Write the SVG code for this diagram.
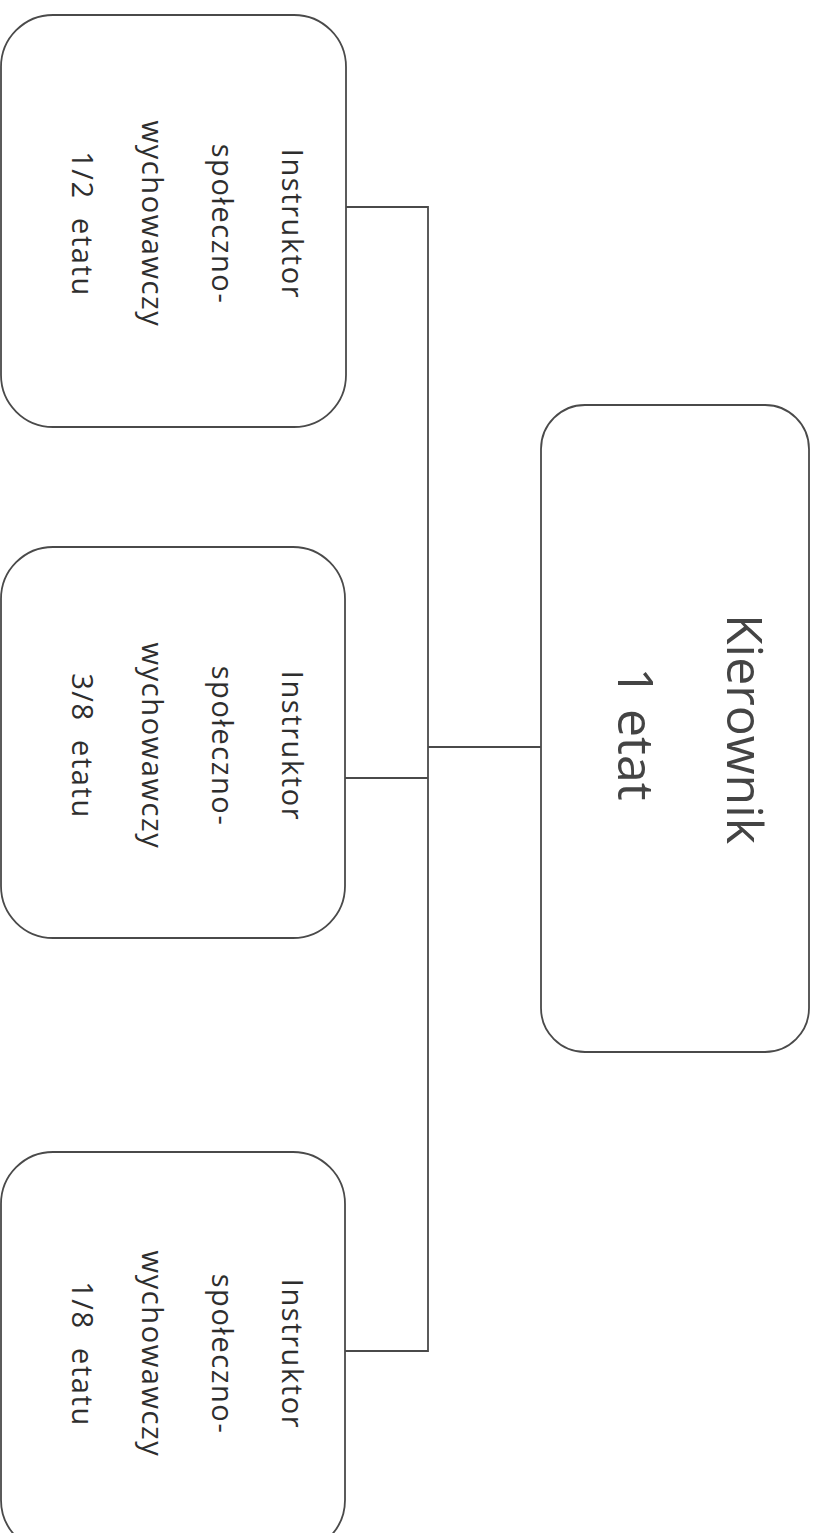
<svg xmlns="http://www.w3.org/2000/svg" width="818" height="1533" viewBox="0 0 818 1533">
<style>
.box{fill:#fff;stroke:#4a4a4a;stroke-width:1.8}
.conn{fill:none;stroke:#4a4a4a;stroke-width:1.8}
.small{font-family:"Open Sans","Liberation Sans",sans-serif;font-size:29px;fill:#2e2e2e;letter-spacing:1.6px}
.big{font-family:"Open Sans","Liberation Sans",sans-serif;font-size:50px;fill:#444}
</style>
<rect width="818" height="1533" fill="#fff"/>
<g id="connectors">
<path class="conn" d="M346,207 H428 V1351 H345"/>
<path class="conn" d="M345,778 H428"/>
<path class="conn" d="M428,747 H541"/>
</g>
<g id="kierownik">
<rect class="box" x="541" y="405" width="268" height="647" rx="44" ry="44"/>
<text class="big" transform="translate(727,729) rotate(90)" text-anchor="middle"><tspan x="0" y="0">Kierownik</tspan></text>
<text class="big" transform="translate(618,734) rotate(90)" text-anchor="middle"><tspan x="0" y="0">1 etat</tspan></text>
</g>
<g id="instr1">
<rect class="box" x="1" y="15" width="345" height="412" rx="52" ry="52"/>
<text class="small" transform="translate(282,224) rotate(90)" text-anchor="middle"><tspan x="0" y="0">Instruktor</tspan><tspan x="0" y="70">społeczno-</tspan><tspan x="0" y="140">wychowawczy</tspan><tspan x="0" y="210">1/2&#160; etatu</tspan></text>
</g>
<g id="instr2">
<rect class="box" x="1" y="547" width="344" height="391" rx="52" ry="52"/>
<text class="small" transform="translate(282,746) rotate(90)" text-anchor="middle"><tspan x="0" y="0">Instruktor</tspan><tspan x="0" y="70">społeczno-</tspan><tspan x="0" y="140">wychowawczy</tspan><tspan x="0" y="210">3/8&#160; etatu</tspan></text>
</g>
<g id="instr3">
<rect class="box" x="1" y="1152" width="344" height="400" rx="52" ry="52"/>
<text class="small" transform="translate(282,1354) rotate(90)" text-anchor="middle"><tspan x="0" y="0">Instruktor</tspan><tspan x="0" y="70">społeczno-</tspan><tspan x="0" y="140">wychowawczy</tspan><tspan x="0" y="210">1/8&#160; etatu</tspan></text>
</g>
</svg>
